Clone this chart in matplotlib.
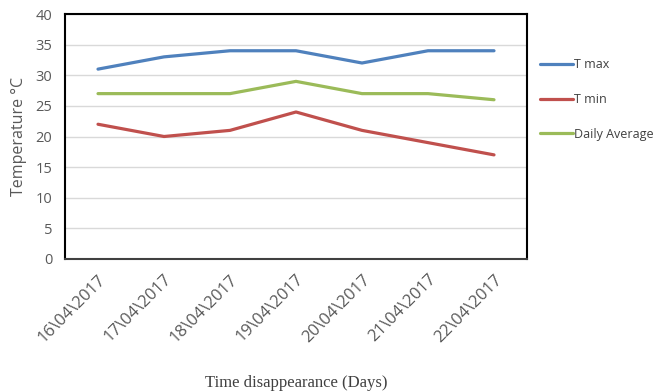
import matplotlib
matplotlib.use("Agg")
import matplotlib.pyplot as plt

dates = ["16\\04\\2017", "17\\04\\2017", "18\\04\\2017", "19\\04\\2017",
         "20\\04\\2017", "21\\04\\2017", "22\\04\\2017"]
t_max = [31, 33, 34, 34, 32, 34, 34]
t_min = [22, 20, 21, 24, 21, 19, 17]
daily_avg = [27, 27, 27, 29, 27, 27, 26]
y_ticks = [0, 5, 10, 15, 20, 25, 30, 35, 40]

plt.rcParams['font.family'] = ['Open Sans', 'DejaVu Sans']

fig = plt.figure(figsize=(6.65, 3.91), dpi=100)
ax = fig.add_axes([65/665, 1-259/391, 462/665, 245/391])

x = list(range(len(dates)))
ax.plot(x, t_max, color='#4F81BD', lw=2.3, label='T max', solid_capstyle='round')
ax.plot(x, t_min, color='#C0504D', lw=2.3, label='T min', solid_capstyle='round')
ax.plot(x, daily_avg, color='#9BBB59', lw=2.3, label='Daily Average', solid_capstyle='round')

ax.set_xlim(-0.5, len(dates) - 0.5)
ax.set_ylim(0, 40)
ax.set_yticks(y_ticks)
ax.yaxis.grid(True, color='#D9D9D9', lw=1)
ax.set_axisbelow(True)
ax.tick_params(axis='both', length=0, labelsize=10.5, colors='#595959')
ax.tick_params(axis='y', pad=9)
ax.set_xticks(x)
ax.set_xticklabels(dates, rotation=45, ha='right', rotation_mode='anchor',
                   fontsize=12)
ax.tick_params(axis='x', pad=9)

for s in ['left', 'top', 'right']:
    ax.spines[s].set_color('black')
    ax.spines[s].set_linewidth(1.5)
ax.spines['bottom'].set_color('#404040')
ax.spines['bottom'].set_linewidth(1.5)

ax.set_ylabel('Temperature °C', fontsize=11.5, color='#595959', labelpad=6)
ax.set_xlabel('Time disappearance (Days)', fontsize=12, color='#404040',
              family='Liberation Serif', labelpad=21)

leg = ax.legend(loc='upper left', bbox_to_anchor=(535/665, 1-53/391),
                bbox_transform=fig.transFigure, frameon=False, fontsize=9,
                handlelength=2.6, handletextpad=0.1, labelspacing=1.75,
                borderaxespad=0)
for t in leg.get_texts():
    t.set_color('#404040')

fig.savefig('out.png', dpi=100)
